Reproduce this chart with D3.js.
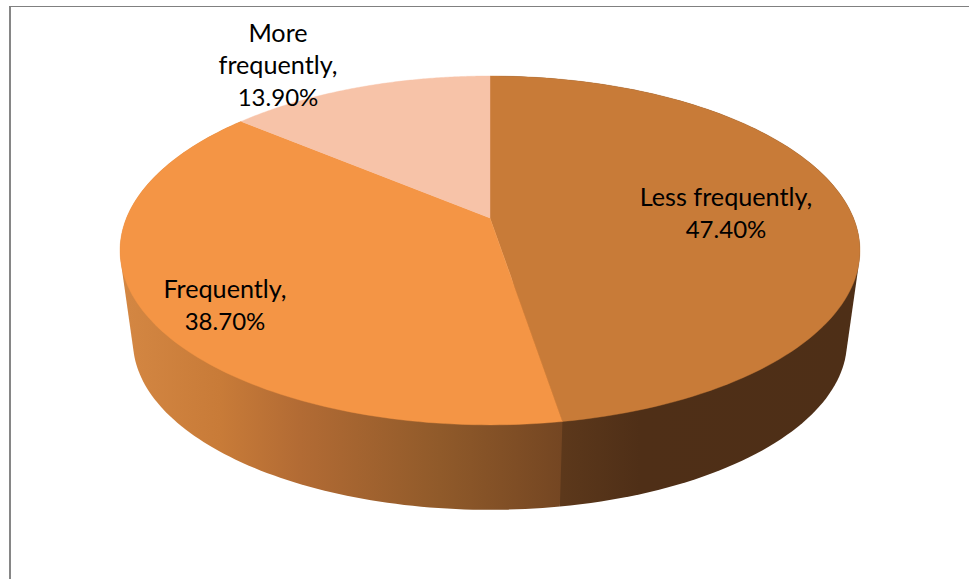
<!DOCTYPE html>
<html>
<head>
<meta charset="utf-8">
<script src="https://cdn.jsdelivr.net/npm/d3@7"></script>
<style>
html,body{margin:0;padding:0;background:#fff;overflow:hidden}
svg{display:block}
text{font-family:Lato,"Open Sans",sans-serif;fill:#000}
</style>
</head>
<body>
<svg id="c" width="969" height="579"></svg>
<script>
const categories = ["Less frequently", "Frequently", "More frequently"];
const values = [47.4, 38.7, 13.9];
const labelLines = [["Less frequently,"], ["Frequently,"], ["More", "frequently,"]];
const topColors = ["#c87b38", "#f49545", "#f7c3a8"];
const wallStops = [
  [[0, "#5c381b"], [0.26, "#4f2f17"], [1, "#4e2f17"]],
  [[0, "#d48743"], [0.226, "#c87b38"], [0.407, "#b26b34"], [0.723, "#905a2a"], [1, "#744622"]]
];
const labelPos = [[726, 206], [225, 298], [278, 42]];

const svg = d3.select("#c");
const defs = svg.append("defs");

// frame
svg.append("line").attr("x1", 10).attr("x2", 10).attr("y1", 6).attr("y2", 579)
  .attr("stroke", "#868686").attr("stroke-width", 2);
svg.append("line").attr("x1", 9).attr("x2", 969).attr("y1", 6.5).attr("y2", 6.5)
  .attr("stroke", "#808080").attr("stroke-width", 1);

// projection of the unit disc
const cx = 490, cy = 218, A = 363.5, B = 168.4, k = 0.186;
const shrink = 0.965, drop = 92.2;
function topPoint(t) {
  const u = Math.sin(t), v = Math.cos(t), w = 1 + k * v;
  return [cx + A * u / w, cy - B * v / w];
}
function bottomPoint(t) {
  const p = topPoint(t);
  return [cx + (p[0] - cx) * shrink, cy + drop + (p[1] - cy) * shrink];
}
const pie = d3.pie().sort(null).value(d => d)(values);
const line = d3.line();
const arcPts = (a, b, f) => d3.range(0, 121).map(i => f(a + (b - a) * i / 120));

// walls: right slice first, the left slice's hull holds the exact seam
[0, 1].forEach(i => {
  const s = pie[i];
  const hull = d3.polygonHull(
    arcPts(s.startAngle, s.endAngle, topPoint).concat(arcPts(s.startAngle, s.endAngle, bottomPoint)));
  const xr = i === 0
    ? [topPoint(s.endAngle)[0], cx + 370]
    : [cx - 370, topPoint(s.startAngle)[0]];
  const g = defs.append("linearGradient").attr("id", "w" + i)
    .attr("gradientUnits", "userSpaceOnUse")
    .attr("x1", xr[0]).attr("x2", xr[1]).attr("y1", 0).attr("y2", 0);
  wallStops[i].forEach(st => g.append("stop").attr("offset", st[0]).attr("stop-color", st[1]));
  svg.append("path").attr("d", line(hull) + "Z").attr("fill", `url(#w${i})`);
});

// top faces
pie.forEach((s, i) => {
  const pts = [[cx, cy]].concat(arcPts(s.startAngle, s.endAngle, topPoint));
  svg.append("path").attr("d", line(pts) + "Z")
    .attr("fill", topColors[i]).attr("stroke", topColors[i]).attr("stroke-width", 0.4);
});

// labels
const fs = 25.2, fsPct = 24, lh = 32;
pie.forEach((s, i) => {
  const names = labelLines[i];
  const t = svg.append("text").attr("text-anchor", "middle").attr("font-size", fs);
  names.forEach((l, j) => t.append("tspan")
    .attr("x", labelPos[i][0]).attr("y", labelPos[i][1] + j * lh).text(l));
  t.append("tspan").attr("font-size", fsPct)
    .attr("x", labelPos[i][0]).attr("y", labelPos[i][1] + names.length * lh)
    .text(values[i].toFixed(2) + "%");
});
</script>
</body>
</html>
